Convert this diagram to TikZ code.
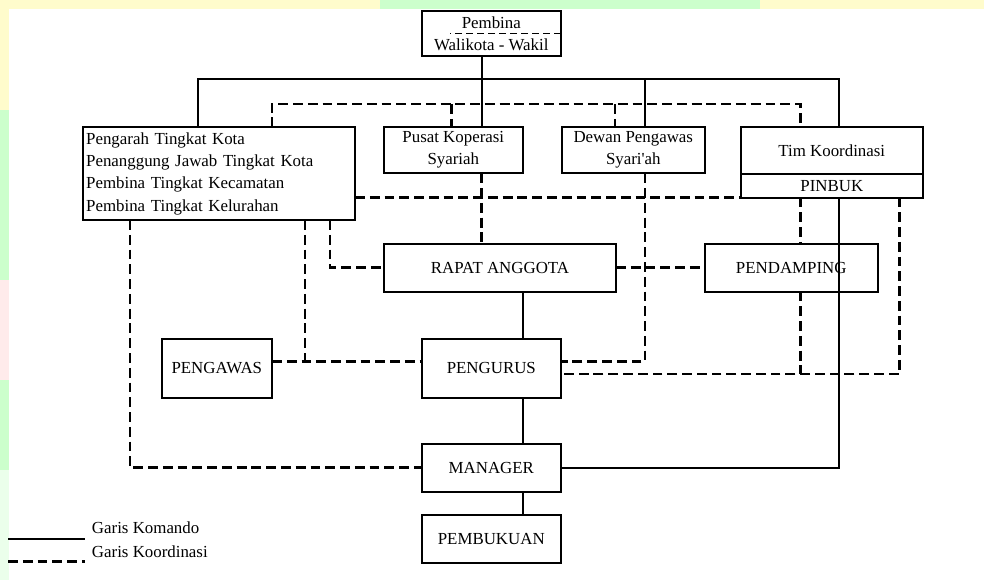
\documentclass[tikz,border=0pt]{standalone}
\usepackage{fontspec}
\setmainfont{Liberation Serif}[Ligatures=TeXOff]
\usetikzlibrary{positioning}
\tikzset{
    box/.style = {rectangle, draw=black, line width=1.4pt, fill=white, outer sep=0pt, inner sep=1pt, align=center, font=\fontsize{12}{15.8}\selectfont},
    legend/.style = {inner sep=0pt, font=\fontsize{12}{15}\selectfont},
    edgek/.style = {line width=1.4pt}, % komando
    edged/.style = {line width=2.1pt, dash pattern=on 7pt off 3.5pt}, % koordinasi
    edgedt/.style = {line width=1.3pt, dash pattern=on 5pt off 2.8pt}, % inside pembina
}

\begin{document}
\begin{tikzpicture}[x=0.025cm, y=-0.025cm]
%
\useasboundingbox (0,0) rectangle (984,580);
\fill[yellow!20] (0,0) rectangle (984,9);
\fill[green!20] (380,0) rectangle (760,9);
\fill[yellow!20] (0,0) rectangle (9,110);
\fill[green!20] (0,110) rectangle (9,280);
\fill[red!8] (0,280) rectangle (9,380);
\fill[green!20] (0,380) rectangle (9,470);
\fill[green!8] (0,470) rectangle (9,580);
%
\node[box, minimum width=3.48cm, minimum height=1.14cm] at (491.3, 33.5) (pembina) {Pembina\\Walikota - Wakil};
\node[box, minimum width=6.79cm, minimum height=2.32cm, align=left, text width=6.65cm, inner xsep=0.07cm] at (219.2, 173.7) (kota) {Pengarah Tingkat Kota\\Penanggung Jawab Tingkat Kota\\Pembina Tingkat Kecamatan\\Pembina Tingkat Kelurahan};
\node[box, minimum width=3.47cm, minimum height=1.17cm] at (453.3, 150) (pusat) {Pusat Koperasi\\Syariah};
\node[box, minimum width=3.58cm, minimum height=1.17cm] at (633.3, 150) (dewan) {Dewan Pengawas\\Syari'ah};
\node[box, minimum width=4.54cm, minimum height=1.18cm] at (831.8, 150.3) (tim) {Tim Koordinasi};
\node[box, minimum width=4.54cm, minimum height=0.59cm, below=0pt of tim] (pinbuk) {PINBUK};
\node[box, minimum width=5.8cm, minimum height=1.19cm] at (500, 267.8) (rapat) {RAPAT ANGGOTA};
\node[box, minimum width=4.32cm, minimum height=1.19cm] at (791.3, 267.8) (pendamping) {PENDAMPING};
\node[box, minimum width=2.76cm, minimum height=1.47cm] at (216.8, 368.3) (pengawas) {PENGAWAS};
\node[box, minimum width=3.48cm, minimum height=1.47cm] at (491.3, 368.3) (pengurus) {PENGURUS};
\node[box, minimum width=3.48cm, minimum height=1.19cm] at (491.3, 467.8) (manager) {MANAGER};
\node[box, minimum width=3.48cm, minimum height=1.19cm] at (491.3, 538.8) (pembukuan) {PEMBUKUAN};
%
\coordinate (cA) at (197.7, 79);
\coordinate (cB) at (481.7, 79);
\coordinate (cC) at (645, 79);
\coordinate (cD) at (839.3, 79);
\coordinate (cE) at (523, 0);
\coordinate (dA) at (272, 104);
\coordinate (dB) at (451.7, 104);
\coordinate (dC) at (615, 104);
\coordinate (dD) at (800.7, 104);
\coordinate (dE) at (899.3, 0);
\coordinate (dF) at (330, 0);
\coordinate (dG) at (305, 0);
\coordinate (dH) at (130, 0);
\coordinate (rU) at (0, 361.7);
\coordinate (rV) at (0, 374);
%
\draw[edgedt] (pembina.east) -- ++(-111,0);
%
\draw[edgek] (kota.north -| cA) -- (cA) -- (cD) -- (tim.north -| cD);
\draw[edgek] (pembina.south -| cB) -- (pusat.north -| cB);
\draw[edgek] (cC) -- (dewan.north -| cC);
\draw[edgek] (pinbuk.south -| cD) |- (manager.east);
\draw[edgek] (rapat.south -| cE) -- (pengurus.north -| cE);
\draw[edgek] (pengurus.south -| cE) -- (manager.north -| cE);
\draw[edgek] (manager.south -| cE) -- (pembukuan.north -| cE);
%
\draw[edged] (kota.north -| dA) -- (dA) -- (dD) -- (tim.north -| dD);
\draw[edged] (dB) -- (pusat.north -| dB);
\draw[edged] (dC) -- (dewan.north -| dC);
\draw[edged] (kota.east |- pinbuk.south) -- (pinbuk.south west);
\draw[edged] (pusat.south -| cB) -- (rapat.north -| cB);
\draw[edged] (dewan.south -| cC) |- (pengurus.east |- rU);
\draw[edged] (pinbuk.south -| dD) -- (pendamping.north -| dD);
\draw[edged] (pendamping.south -| dD) -- (dD |- rV);
\draw[edged] (pinbuk.south -| dE) |- (pengurus.east |- rV);
\draw[edged] (rapat.east) -- (pendamping.west);
\draw[edged] (kota.south -| dF) |- (rapat.west);
\draw[edged] (kota.south -| dG) -- (dG |- rU);
\draw[edged] (pengawas.east |- rU) -- (pengurus.west |- rU);
\draw[edged] (kota.south -| dH) |- (manager.west);
%
\node[legend, anchor=west] at (91.7, 528) (lk) {Garis Komando};
\node[legend, anchor=west] at (91.7, 551.7) (ld) {Garis Koordinasi};
\coordinate (lkA) at (8, 539);
\coordinate (ldA) at (8, 561.7);
\draw[edgek] (lkA) -- ++(77,0);
\draw[edged] (ldA) -- ++(77,0);

\end{tikzpicture}
\end{document}
